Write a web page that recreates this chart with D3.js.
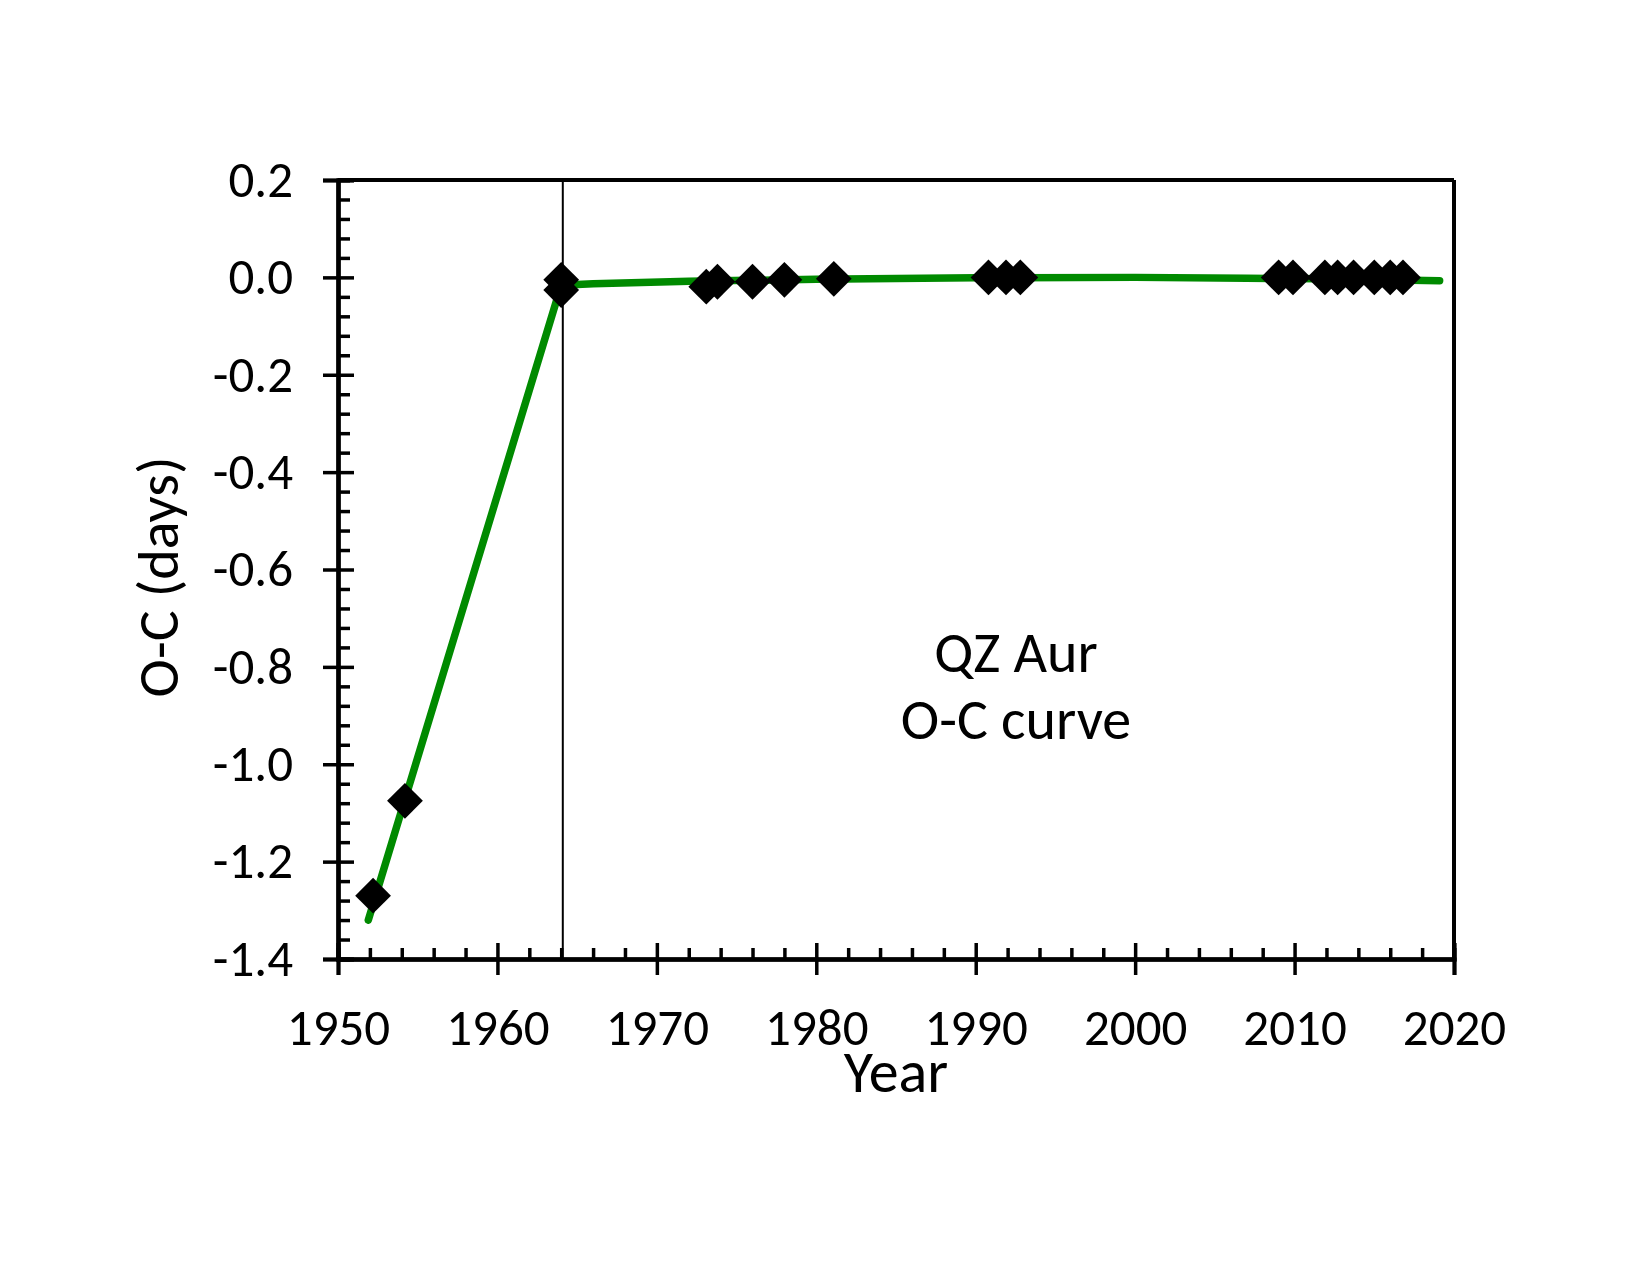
<!DOCTYPE html>
<html lang="en">
<head>
<meta charset="UTF-8">
<title>QZ Aur O-C curve</title>
<script src="https://cdn.jsdelivr.net/npm/d3@7"></script>
<style>
  body { margin: 0; background: #fff; }
  text { font-family: Calibri, Carlito, Lato, sans-serif; fill: #000; }
</style>
</head>
<body>
<script>
// observed minima (year, O-C in days)
var obsYears = [1952.2, 1954.2, 1964.0, 1964.0, 1973.1, 1973.8, 1976.0, 1978.0, 1981.1,
                1990.8, 1991.9, 1992.8, 2009.0, 2009.9, 2011.9, 2012.7, 2013.7, 2015.0, 2016.0, 2016.8];
var obsValues = [-1.27, -1.075, -0.005, -0.026, -0.019, -0.009, -0.009, -0.005, -0.003,
                 0.0, 0.0, 0.0, 0.0, 0.0, 0.0, 0.0, 0.0, 0.0, 0.0, 0.0];

// fitted curve (green)
var fitYears  = [1951.9, 1964.0, 1966.0, 1972.0, 1980.0, 1990.0, 2000.0, 2007.0, 2012.0, 2019.1];
var fitValues = [-1.32, -0.016, -0.013, -0.008, -0.004, -0.001, 0.0, -0.002, -0.003, -0.007];

var markerYear = 1964.1;

var xMajor = [1950, 1960, 1970, 1980, 1990, 2000, 2010, 2020];
var yMajor = [0.2, 0.0, -0.2, -0.4, -0.6, -0.8, -1.0, -1.2, -1.4];

var w = 1650, h = 1275;
var pLeft = 338, pRight = 1454, pTop = 180, pBottom = 959;

var x = d3.scaleLinear().domain([1950, 2020]).range([pLeft, pRight]);
var y = d3.scaleLinear().domain([-1.4, 0.2]).range([pBottom, pTop]);

var xMinor = d3.range(1952, 2020, 2).filter(function(d) { return d % 10 != 0; });
var yMinor = d3.range(-35, 5).map(function(i) { return i * 0.04; })
               .filter(function(d) { return Math.abs(d * 5 - Math.round(d * 5)) > 1e-6; });

var f1 = d3.format(".1f");
function yFmt(d) { return f1(d).replace("\u2212", "-"); }

var svg = d3.select("body").append("svg")
  .attr("width", w).attr("height", h);

svg.append("rect").attr("width", w).attr("height", h).attr("fill", "#fff");

// frame: top and right
svg.append("line").attr("x1", pLeft).attr("x2", pRight).attr("y1", pTop).attr("y2", pTop)
  .attr("stroke", "#000").attr("stroke-width", 4);
svg.append("line").attr("x1", pRight).attr("x2", pRight).attr("y1", pTop).attr("y2", pBottom)
  .attr("stroke", "#000").attr("stroke-width", 4);

// y axis
var gy = svg.append("g").attr("transform", "translate(" + pLeft + ",0)");
gy.call(d3.axisLeft(y).tickValues(yMajor).tickSize(15).tickPadding(30).tickFormat(yFmt));
gy.append("g").call(d3.axisRight(y).tickValues(yMajor).tickSize(16).tickFormat(""));
gy.append("g").call(d3.axisRight(y).tickValues(yMinor).tickSize(12).tickFormat(""));

// x axis
var gx = svg.append("g").attr("transform", "translate(0," + pBottom + ")");
gx.call(d3.axisBottom(x).tickValues(xMajor).tickSize(16).tickPadding(34)
  .tickFormat(d3.format("d")));
gx.append("g").call(d3.axisTop(x).tickValues(xMajor).tickSize(16).tickFormat(""));
gx.append("g").call(d3.axisTop(x).tickValues(xMinor).tickSize(11).tickFormat(""));

svg.selectAll(".domain").attr("stroke", "#000").attr("stroke-width", 4);
svg.selectAll(".tick line").attr("stroke", "#000").attr("stroke-width", 3.5);
svg.selectAll(".tick text").style("font-size", "51px").attr("fill", "#000");

// vertical marker
svg.append("line")
  .attr("x1", x(markerYear)).attr("x2", x(markerYear))
  .attr("y1", pTop).attr("y2", pBottom)
  .attr("stroke", "#000").attr("stroke-width", 2);

// fitted curve
var fit = fitYears.map(function(d, i) { return [d, fitValues[i]]; });
var line = d3.line()
  .x(function(d) { return x(d[0]); })
  .y(function(d) { return y(d[1]); });
svg.append("path")
  .datum(fit)
  .attr("d", line)
  .attr("fill", "none")
  .attr("stroke", "#008a00")
  .attr("stroke-width", 7.5)
  .attr("stroke-linecap", "round")
  .attr("stroke-linejoin", "round");

// observed points as diamonds
var obs = obsYears.map(function(d, i) { return [d, obsValues[i]]; });
var diamond = d3.symbol().type(d3.symbolSquare).size(640);
svg.selectAll(".pt")
  .data(obs)
  .enter()
  .append("path")
  .attr("class", "pt")
  .attr("d", diamond)
  .attr("transform", function(d) { return "translate(" + x(d[0]) + "," + y(d[1]) + ") rotate(45)"; })
  .attr("fill", "#000");

// axis titles
svg.append("text")
  .attr("x", (pLeft + pRight) / 2).attr("y", 1092)
  .attr("text-anchor", "middle")
  .style("font-size", "60px")
  .text("Year");

svg.append("text")
  .attr("transform", "translate(178,577) rotate(-90)")
  .attr("text-anchor", "middle")
  .style("font-size", "58px")
  .text("O-C (days)");

// annotation
svg.append("text")
  .attr("x", 1016).attr("y", 672)
  .attr("text-anchor", "middle")
  .style("font-size", "58px")
  .text("QZ Aur");
svg.append("text")
  .attr("x", 1016).attr("y", 739)
  .attr("text-anchor", "middle")
  .style("font-size", "58px")
  .text("O-C curve");
</script>
</body>
</html>
